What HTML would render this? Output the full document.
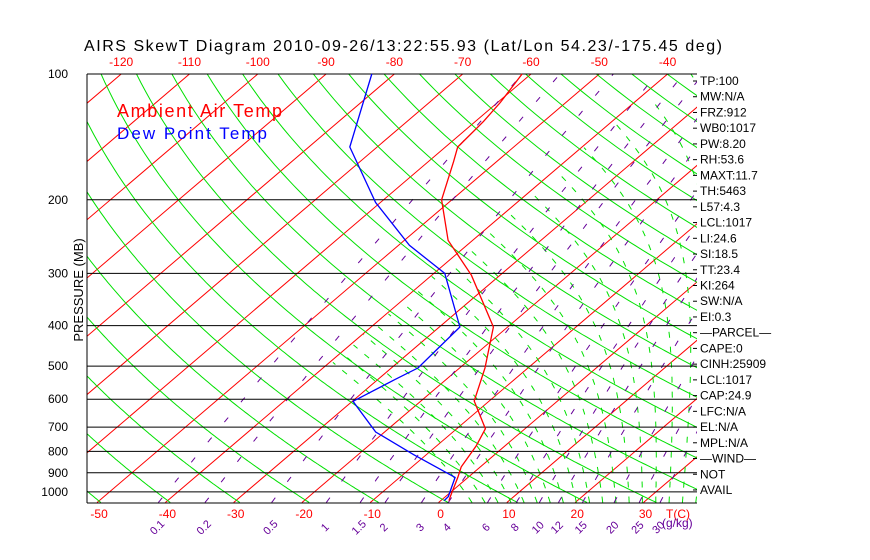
<!DOCTYPE html>
<html><head><meta charset="utf-8"><style>
body{margin:0;background:#fff;}
svg{display:block;font-family:"Liberation Sans",sans-serif;}
</style></head><body>
<svg id="chart" width="870" height="560">
<defs><clipPath id="plotclip"><rect x="87" y="74" width="610" height="429"/></clipPath></defs>
<text x="84" y="51" font-size="16" fill="#000" textLength="638" lengthAdjust="spacing">AIRS SkewT Diagram 2010-09-26/13:22:55.93 (Lat/Lon 54.23/-175.45 deg)</text>
<g id="bg" clip-path="url(#plotclip)"></g>
<g id="axes"></g>
<text x="117" y="117" font-size="18" fill="#f00" textLength="165" lengthAdjust="spacing">Ambient Air Temp</text>
<text x="117" y="139" font-size="17" fill="#00f" textLength="150" lengthAdjust="spacing">Dew Point Temp</text>
<text transform="translate(83,290) rotate(-90)" font-size="13" text-anchor="middle" fill="#000">PRESSURE (MB)</text>
</svg>
<script>
// ---- data ----
const tempPressure = [100,117,130,149.5,162,200,250,303,403,505,606,706,776,871,923,1026,1049];
const tempValues   = [-61.3,-59.6,-58.8,-58.2,-56.3,-51.5,-43.6,-34.2,-22.1,-16.3,-12.2,-5.8,-4.2,-2.8,-1.5,0.7,1.2];
const dewPressure  = [100,149.5,203,257,300,403,505,539,607,719,814,923,1026,1049];
const dewValues    = [-83.3,-74.0,-60.7,-48.4,-38.4,-27.0,-26.1,-27.5,-29.9,-21.3,-11.9,-1.9,0.4,0.5];
const pressureTicks = [100,200,300,400,500,600,700,800,900,1000];
const bottomTempTicks = [-50,-40,-30,-20,-10,0,10,20,30];
const topTempTicks = [-120,-110,-100,-90,-80,-70,-60,-50,-40];
const mixingRatios = [0.1,0.2,0.5,1,1.5,2,3,4,6,8,10,12,15,20,25,30];
const mixingLabels = ["0.1","0.2","0.5","1","1.5","2","3","4","6","8","10","12","15","20","25","30"];
const dryThetas = [200,210,220,230,240,250,260,270,280,290,300,310,320,330,340,350,360,370,380,390,400,410,420,430,440,450,460,470,480,490,500,520,540];
const moistThetaW = [2,4,6,8,10,12,14,16,18,20,22,24,26,28,30,32,34,36,38,40];
const infoLabels = ["TP:100","MW:N/A","FRZ:912","WB0:1017","PW:8.20","RH:53.6","MAXT:11.7","TH:5463","L57:4.3","LCL:1017","LI:24.6","SI:18.5","TT:23.4","KI:264","SW:N/A","EI:0.3","\u2014PARCEL\u2014","CAPE:0","CINH:25909","LCL:1017","CAP:24.9","LFC:N/A","EL:N/A","MPL:N/A","\u2014WIND\u2014","NOT","AVAIL"];

// ---- axes ----
const NS="http://www.w3.org/2000/svg";
const YB=503, X0=438, KX=6.83, SK=1.172;
function yOf(p){return 74+181.5*Math.log(p/100);}
function xOf(t,p){return X0+KX*t+SK*(YB-yOf(p));}
const bg=document.getElementById('bg'), ax=document.getElementById('axes');
function mk(tag,attrs,parent){const e=document.createElementNS(NS,tag);for(const k in attrs)e.setAttribute(k,attrs[k]);parent.appendChild(e);return e;}
function pts(arr){return arr.map(a=>a[0].toFixed(1)+','+a[1].toFixed(1)).join(' ');}
const pLevels=[];for(let p=1060;p>=95;p-=5)pLevels.push(p);

// isotherms
for(let t=-170;t<=50;t+=10){
  const l=mk('line',{x1:xOf(t,1060),y1:yOf(1060),x2:xOf(t,95),y2:yOf(95),stroke:'#f00','stroke-width':1},bg);
  
  
}
// dry adiabats
dryThetas.forEach(th=>{
  const a=pLevels.map(p=>[xOf(th*Math.pow(p/1000,0.2857)-273.15,p),yOf(p)]);
  const l=mk('polyline',{points:pts(a),fill:'none',stroke:'#00e000','stroke-width':1},bg);
  
  
});
// moist adiabats
function es(tc){return 6.112*Math.exp(17.67*tc/(tc+243.5));}
moistThetaW.forEach(tw=>{
  let T=tw+273.15;
  for(let p=1000;p<1060;p+=5){const e=es(T-273.15),rs=0.622*e/(p-e);
    const d=(287*T+2.5e6*rs)/(p*(1005+2.5e6*2.5e6*rs*0.622/(287*T*T)));T+=d*5;}
  const a=[];
  for(let p=1060;p>=95;p-=5){
    if(T-273.15<-40)break;
    a.push([xOf(T-273.15,p),yOf(p)]);
    const e=es(T-273.15), rs=0.622*e/(p-e);
    const dTdp=(287*T+2.5e6*rs)/(p*(1005+2.5e6*2.5e6*rs*0.622/(287*T*T)));
    T-=dTdp*5;
  }
  const l=mk('polyline',{points:pts(a),fill:'none',stroke:'#00e000','stroke-width':1,'stroke-dasharray':'6 9'},bg);
  
  
});
// mixing ratio lines
function tdOf(w,p){const e=w*p/(622+w);const g=Math.log(e/6.112);return 243.5*g/(17.67-g);}
mixingRatios.forEach((w,i)=>{
  const a=pLevels.map(p=>[xOf(tdOf(w,p),p),yOf(p)]);
  const l=mk('polyline',{points:pts(a),fill:'none',stroke:'#660099','stroke-width':1,'stroke-dasharray':'6 20'},bg);
  
  
  const x=xOf(tdOf(w,1050),1050);
  const t=mk('text',{transform:`translate(${x.toFixed(1)},530) rotate(-45)`,'font-size':11,fill:'#660099','text-anchor':'middle'},ax);
  t.textContent=mixingLabels[i];
  
  
});
// pressure lines and labels
pressureTicks.forEach(p=>{
  const y=yOf(p);
  const l=mk('line',{x1:87,y1:y,x2:697,y2:y,stroke:'#000','stroke-width':1},ax);
  
  
  const t=mk('text',{x:68,y:y+4,'font-size':12,fill:'#000','text-anchor':'end'},ax);
  t.textContent=p;
  
  
});
const bl=mk('line',{x1:87,y1:YB,x2:697,y2:YB,stroke:'#000','stroke-width':1},ax);


const ll=mk('line',{x1:87,y1:74,x2:87,y2:YB,stroke:'#000','stroke-width':1},ax);


bottomTempTicks.forEach(t=>{
  const e=mk('text',{x:xOf(t,1050),y:518,'font-size':12,fill:'#f00','text-anchor':'middle'},ax);
  e.textContent=t;
  
  
});
const tc=mk('text',{x:666,y:518,'font-size':12,fill:'#f00'},ax);tc.textContent='T(C)';


const gk=mk('text',{x:662,y:527,'font-size':12,fill:'#660099'},ax);gk.textContent='(g/kg)';


topTempTicks.forEach(t=>{
  const e=mk('text',{x:xOf(t,100),y:66,'font-size':12,fill:'#f00','text-anchor':'middle'},ax);
  e.textContent=t;
  
  
});
infoLabels.forEach((s,i)=>{
  const y=85+i*15.73;
  const e=mk('text',{x:700,y:y,'font-size':12,fill:'#000'},ax);
  e.textContent=s;
  
  
  const tk=mk('line',{x1:693,y1:y-4,x2:697,y2:y-4,stroke:'#000'},ax);
  
  
});
// soundings
const tl=mk('polyline',{points:pts(tempPressure.map((p,i)=>[xOf(tempValues[i],p),yOf(p)])),fill:'none',stroke:'#f00','stroke-width':1.3},ax);


const dl=mk('polyline',{points:pts(dewPressure.map((p,i)=>[xOf(dewValues[i],p),yOf(p)])),fill:'none',stroke:'#00f','stroke-width':1.3},ax);


</script>
</body></html>
